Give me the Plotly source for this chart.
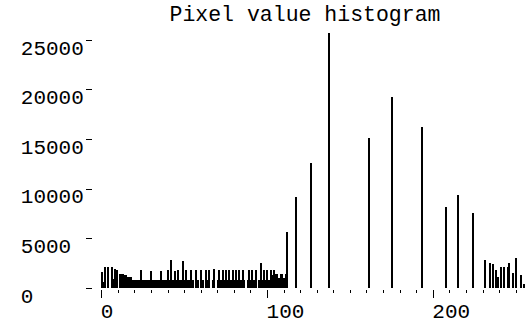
import plotly.graph_objects as go

# Pixel values 0..255 (bins) and their counts
pixel_values = list(range(256))

counts_0_63 = [
    1640, 600, 2090, 0, 2130, 0, 2090, 900, 1980, 1800, 0, 1400, 1400, 1400, 1300, 1300,
    1140, 1140, 1140, 850, 850, 850, 800, 850, 1800, 850, 850, 850, 800, 850, 1780, 850,
    850, 800, 850, 850, 1780, 850, 850, 800, 1800, 850, 2800, 850, 1780, 850, 1800, 850,
    800, 2780, 850, 1800, 800, 850, 1800, 850, 0, 1850, 800, 0, 1850, 850, 0, 1850,
]
counts_64_127 = [
    800, 1800, 0, 850, 1900, 0, 850, 1850, 850, 1800, 800, 1850, 850, 1800, 850, 1850,
    800, 1850, 850, 1800, 800, 1850, 850, 0, 850, 1800, 850, 1850, 800, 1800, 0, 850,
    2590, 850, 1850, 800, 1800, 850, 1800, 1300, 1850, 1480, 1480, 1000, 1480, 1480, 1000, 1480,
    5620, 0, 0, 0, 0, 9200, 0, 0, 0, 0, 0, 0, 0, 0, 12630, 0,
]
counts_128_191 = [
    0, 0, 0, 0, 0, 0, 0, 0, 0, 25770, 0, 0, 0, 0, 0, 0,
    0, 0, 0, 0, 0, 0, 0, 0, 0, 0, 0, 0, 0, 0, 0, 0,
    0, 15120, 0, 0, 0, 0, 0, 0, 0, 0, 0, 0, 0, 0, 0, 19280,
    0, 0, 0, 0, 0, 0, 0, 0, 0, 0, 0, 0, 0, 0, 0, 0,
]
counts_192_255 = [
    0, 16260, 0, 0, 0, 0, 0, 0, 0, 0, 0, 0, 0, 0, 0, 0,
    8200, 0, 0, 0, 0, 0, 0, 9440, 0, 0, 0, 0, 0, 0, 0, 0,
    7630, 0, 0, 0, 0, 0, 0, 2800, 0, 0, 2590, 0, 2400, 0, 1830, 1160,
    0, 2150, 0, 2150, 0, 2150, 2590, 0, 1580, 0, 3000, 0, 0, 1380, 0, 390,
]
counts = counts_0_63 + counts_64_127 + counts_128_191 + counts_192_255

x_tick_vals = [0, 100, 200]
x_tick_text = ["0", "100", "200"]
y_tick_vals = [0, 5000, 10000, 15000, 20000, 25000]
y_tick_text = ["0", "5000", "10000", "15000", "20000", "25000"]

NB = "\u00a0"
FONT = "Liberation Mono"
FS = 21

fig = go.Figure(
    go.Bar(
        x=pixel_values,
        y=counts,
        width=0.7,
        marker=dict(color="black", line=dict(width=0)),
        hoverinfo="x+y",
    )
)

fig.update_layout(
    width=532,
    height=334,
    margin=dict(l=93, r=3, t=30, b=45, autoexpand=False),
    paper_bgcolor="white",
    plot_bgcolor="white",
    showlegend=False,
    bargap=0,
    font=dict(family=FONT, size=FS, color="black"),
    title=dict(
        text="Pixel value histogram",
        font=dict(family=FONT, size=21.5, color="black"),
        x=305 / 532,
        xref="container",
        xanchor="center",
        y=1 - 13 / 334,
        yref="container",
        yanchor="middle",
        automargin=False,
    ),
)

fig.update_xaxes(
    range=[-5.25, 257.75],
    automargin=False,
    tickmode="array",
    tickvals=x_tick_vals,
    ticktext=[t + NB * (3 - len(t)) for t in x_tick_text],
    ticks="outside",
    ticklen=8,
    tickwidth=1,
    tickcolor="black",
    ticklabelshift=18,
    ticklabelstandoff=-5,
    showline=False,
    showgrid=False,
    zeroline=False,
    tickfont=dict(family=FONT, size=FS, color="black"),
    minor=dict(dtick=10, tick0=0, ticks="outside", ticklen=3, tickwidth=1,
               tickcolor="black", showgrid=False),
)

fig.update_yaxes(
    range=[-81, 26028],
    automargin=False,
    tickmode="array",
    tickvals=y_tick_vals,
    ticktext=[t + NB * (5 - len(t)) for t in y_tick_text],
    ticks="outside",
    ticklen=6,
    tickwidth=1,
    tickcolor="black",
    ticklabelshift=7,
    ticklabelstandoff=-2,
    showline=False,
    showgrid=False,
    zeroline=False,
    tickfont=dict(family=FONT, size=FS, color="black"),
)

# remove the browser's default 8px body margin so the figure fills the window
fig.write_html(
    "out.html",
    config={"displayModeBar": False},
    post_script="document.body.style.margin='0px';",
)
